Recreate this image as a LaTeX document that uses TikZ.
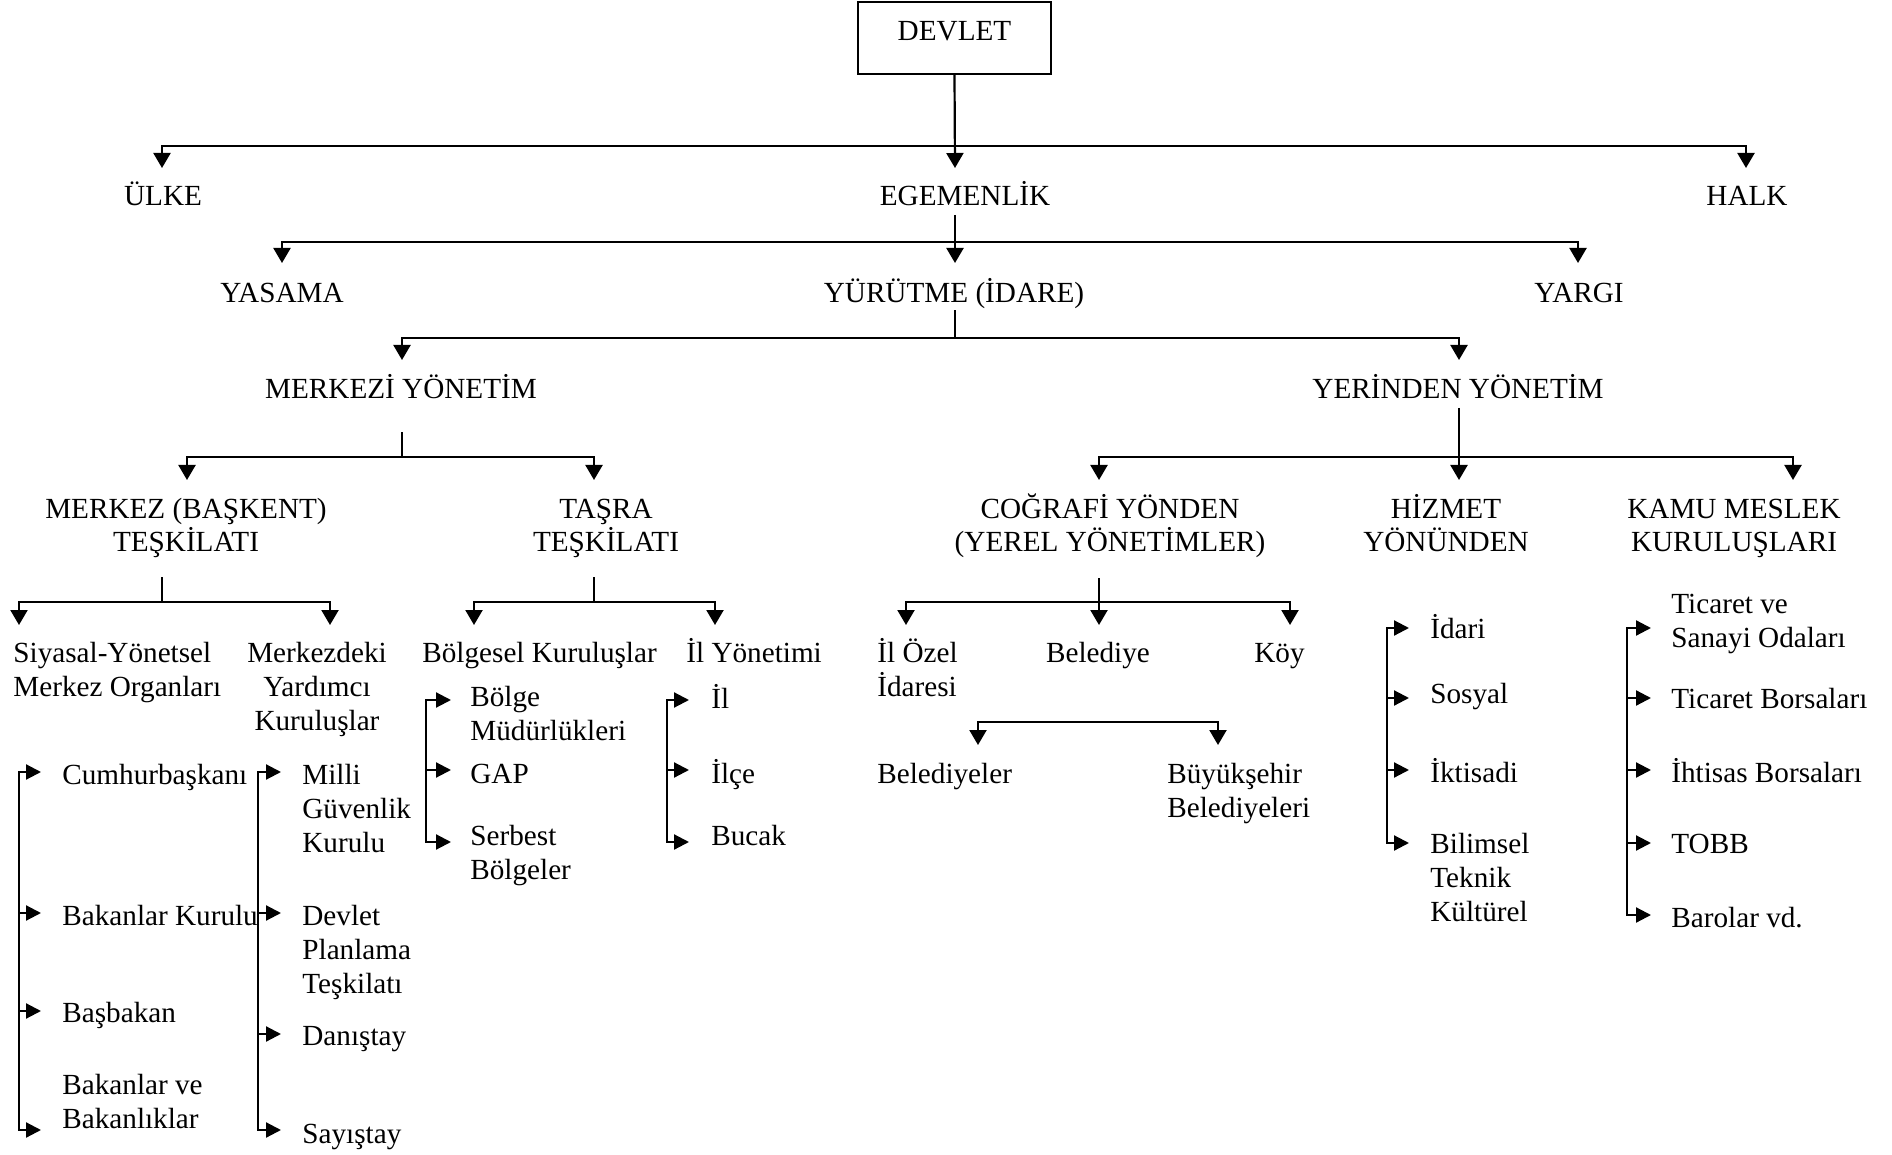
\documentclass[tikz,border=0pt]{standalone}
\usepackage{fontspec}
\setmainfont{Liberation Serif}
\usetikzlibrary{arrows.meta}
\begin{document}
\begin{tikzpicture}[x=0.5pt,y=-0.5pt,
  lbl/.style={inner sep=0pt, font=\fontsize{14.6pt}{17pt}\selectfont},
  cl/.style={lbl, anchor=base, align=center},
  ll/.style={lbl, anchor=base west, align=left},
  link/.style={line width=1pt, line cap=rect},
  down/.style={line width=1.1pt, -{Triangle[length=7.5pt,width=8.5pt]}},
  item/.style={line width=1.1pt, -{Triangle[length=7.5pt,width=7.5pt]}},
]
\useasboundingbox (0,0) rectangle (1892,1155);

% ---------- root ----------
\node[draw, line width=0.9pt, minimum width=96.5pt, minimum height=36pt,
      text depth=7pt, lbl] (devlet) at (954.5,38) {DEVLET};

% ---------- labels of the tree (base = baseline of the last line) ----------
\node[cl] (ulke) at (163,206) {ÜLKE};
\node[cl] (egem) at (965,206) {EGEMENLİK};
\node[cl] (halk) at (1747,206) {HALK};
\node[cl] (yasama) at (282,303) {YASAMA};
\node[cl] (yurutme) at (954,303) {YÜRÜTME (İDARE)};
\node[cl] (yargi) at (1579,303) {YARGI};
\node[cl] (merkezi) at (401,399) {MERKEZİ YÖNETİM};
\node[cl] (yerinden) at (1458,399) {YERİNDEN YÖNETİM};
\node[cl] (baskent) at (186,552) {MERKEZ (BAŞKENT)\\TEŞKİLATI};
\node[cl] (tasra) at (606,552) {TAŞRA\\TEŞKİLATI};
\node[cl] (cografi) at (1110,552) {COĞRAFİ YÖNDEN\\(YEREL YÖNETİMLER)};
\node[cl] (hizmet) at (1446,552) {HİZMET\\YÖNÜNDEN};
\node[cl] (kamu) at (1734,552) {KAMU MESLEK\\KURULUŞLARI};
\node[ll] (siyasal) at (13,696) {Siyasal-Yönetsel\\Merkez Organları};
\node[cl] (yardimci) at (317,730) {Merkezdeki\\Yardımcı\\Kuruluşlar};
\node[ll] (bolgesel) at (422,662) {Bölgesel Kuruluşlar};
\node[ll] (ilyon) at (686,662) {İl Yönetimi};
\node[ll] (ilozel) at (877,696) {İl Özel\\İdaresi};
\node[cl] (belediye) at (1098,662) {Belediye};
\node[ll] (koy) at (1254,662) {Köy};
\node[ll] (belediyeler) at (877,783) {Belediyeler};
\node[ll] (buyuksehir) at (1167,817) {Büyükşehir\\Belediyeleri};

% ---------- list entries ----------
\node[ll] (cumhur) at (62,784) {Cumhurbaşkanı};
\node[ll] (bkurulu) at (62,925) {Bakanlar Kurulu};
\node[ll] (basbakan) at (62,1022) {Başbakan};
\node[ll] (bakanlar) at (62,1128) {Bakanlar ve\\Bakanlıklar};
\node[ll] (mgk) at (302,852) {Milli\\Güvenlik\\Kurulu};
\node[ll] (dpt) at (302,993) {Devlet\\Planlama\\Teşkilatı};
\node[ll] (danistay) at (302,1045) {Danıştay};
\node[ll] (sayistay) at (302,1143) {Sayıştay};
\node[ll] (bolgemud) at (470,740) {Bölge\\Müdürlükleri};
\node[ll] (gap) at (470,783) {GAP};
\node[ll] (serbest) at (470,879) {Serbest\\Bölgeler};
\node[ll] (il) at (711,708) {İl};
\node[ll] (ilce) at (711,783) {İlçe};
\node[ll] (bucak) at (711,845) {Bucak};
\node[ll] (idari) at (1430,638) {İdari};
\node[ll] (sosyal) at (1430,703) {Sosyal};
\node[ll] (iktisadi) at (1430,782) {İktisadi};
\node[ll] (bilimsel) at (1430,921) {Bilimsel\\Teknik\\Kültürel};
\node[ll] (ticaret) at (1671,647) {Ticaret ve\\Sanayi Odaları};
\node[ll] (tborsa) at (1671,708) {Ticaret Borsaları};
\node[ll] (ihtisas) at (1671,782) {İhtisas Borsaları};
\node[ll] (tobb) at (1671,853) {TOBB};
\node[ll] (barolar) at (1671,927) {Barolar vd.};

% ---------- branch points, stem tops and arrow tips ----------
\coordinate (j1) at (955,146);
\coordinate (tUlke) at (162,168);
\coordinate (tEgem) at (955,168);
\coordinate (tHalk) at (1746,168);

\coordinate (s2) at (955,215);
\coordinate (j2) at (955,242);
\coordinate (tYasama) at (282,263);
\coordinate (tYurutme) at (955,263);
\coordinate (tYargi) at (1578,263);

\coordinate (s3) at (955,311);
\coordinate (j3) at (955,338);
\coordinate (tMerkezi) at (402,360);
\coordinate (tYerinden) at (1459,360);

\coordinate (s4) at (402,433);
\coordinate (j4) at (402,457);
\coordinate (tBaskent) at (187,480);
\coordinate (tTasra) at (594,480);

\coordinate (s5) at (1459,408);
\coordinate (j5) at (1459,457);
\coordinate (tCog) at (1099,480);
\coordinate (tHiz) at (1459,480);
\coordinate (tKamu) at (1793,480);

\coordinate (s6) at (162,578);
\coordinate (j6) at (162,602);
\coordinate (tSiy) at (19,625);
\coordinate (tYard) at (330,625);

\coordinate (s7) at (594,578);
\coordinate (j7) at (594,602);
\coordinate (tBolg) at (474,625);
\coordinate (tIlyon) at (715,625);

\coordinate (s8) at (1099,578);
\coordinate (j8) at (1099,602);
\coordinate (tIloz) at (906,625);
\coordinate (tBel) at (1099,625);
\coordinate (tKoy) at (1290,625);

\coordinate (j9) at (1098,722);
\coordinate (tBelr) at (978,745);
\coordinate (tBsb) at (1218,745);

% ---------- tree connectors ----------
\draw[down] (devlet.south) -- (tEgem);
\draw[down] (j1) -| (tUlke);
\draw[down] (j1) -| (tHalk);

\draw[down] (s2) -- (tYurutme);
\draw[down] (j2) -| (tYasama);
\draw[down] (j2) -| (tYargi);

\draw[link] (s3) -- (j3);
\draw[down] (j3) -| (tMerkezi);
\draw[down] (j3) -| (tYerinden);

\draw[link] (s4) -- (j4);
\draw[down] (j4) -| (tBaskent);
\draw[down] (j4) -| (tTasra);

\draw[down] (s5) -- (tHiz);
\draw[down] (j5) -| (tCog);
\draw[down] (j5) -| (tKamu);

\draw[link] (s6) -- (j6);
\draw[down] (j6) -| (tSiy);
\draw[down] (j6) -| (tYard);

\draw[link] (s7) -- (j7);
\draw[down] (j7) -| (tBolg);
\draw[down] (j7) -| (tIlyon);

\draw[down] (s8) -- (tBel);
\draw[down] (j8) -| (tIloz);
\draw[down] (j8) -| (tKoy);

\draw[down] (j9) -| (tBelr);
\draw[down] (j9) -| (tBsb);

% ---------- bracket lists ----------
% Siyasal-Yönetsel Merkez Organları
\coordinate (sL) at (19,772);
\coordinate (sB) at (19,1130);
\coordinate (sT1) at (41,772);
\coordinate (sT2) at (41,913);
\coordinate (sT3) at (41,1011);
\coordinate (sT4) at (41,1130);
\draw[link] (sL) -- (sB);
\foreach \t in {sT1,sT2,sT3,sT4} \draw[item] (sL |- \t) -- (\t);

% Merkezdeki Yardımcı Kuruluşlar
\coordinate (mL) at (258,772);
\coordinate (mB) at (258,1130);
\coordinate (mT1) at (281,772);
\coordinate (mT2) at (281,913);
\coordinate (mT3) at (281,1034);
\coordinate (mT4) at (281,1130);
\draw[link] (mL) -- (mB);
\foreach \t in {mT1,mT2,mT3,mT4} \draw[item] (mL |- \t) -- (\t);

% Bölgesel Kuruluşlar
\coordinate (bL) at (426,700);
\coordinate (bB) at (426,842);
\coordinate (bT1) at (451,700);
\coordinate (bT2) at (451,770);
\coordinate (bT3) at (451,842);
\draw[link] (bL) -- (bB);
\foreach \t in {bT1,bT2,bT3} \draw[item] (bL |- \t) -- (\t);

% İl Yönetimi
\coordinate (iL) at (667,700);
\coordinate (iB) at (667,842);
\coordinate (iT1) at (689,700);
\coordinate (iT2) at (689,770);
\coordinate (iT3) at (689,842);
\draw[link] (iL) -- (iB);
\foreach \t in {iT1,iT2,iT3} \draw[item] (iL |- \t) -- (\t);

% Hizmet yönünden
\coordinate (hL) at (1387,628);
\coordinate (hB) at (1387,843);
\coordinate (hT1) at (1409,628);
\coordinate (hT2) at (1409,698);
\coordinate (hT3) at (1409,770);
\coordinate (hT4) at (1409,843);
\draw[link] (hL) -- (hB);
\foreach \t in {hT1,hT2,hT3,hT4} \draw[item] (hL |- \t) -- (\t);

% Kamu meslek kuruluşları
\coordinate (kL) at (1627,628);
\coordinate (kB) at (1627,915);
\coordinate (kT1) at (1651,628);
\coordinate (kT2) at (1651,698);
\coordinate (kT3) at (1651,770);
\coordinate (kT4) at (1651,843);
\coordinate (kT5) at (1651,915);
\draw[link] (kL) -- (kB);
\foreach \t in {kT1,kT2,kT3,kT4,kT5} \draw[item] (kL |- \t) -- (\t);

\end{tikzpicture}
\end{document}
